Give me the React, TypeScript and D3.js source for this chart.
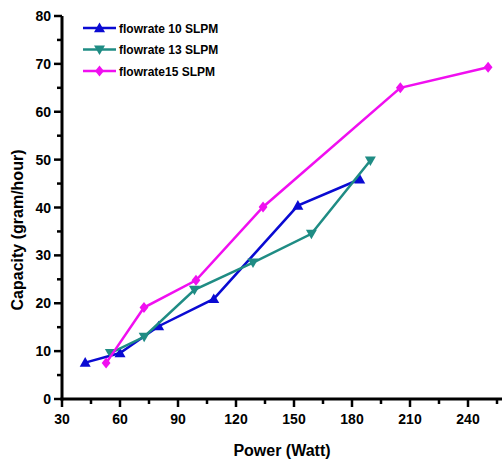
import React from "react";
import * as d3 from "d3";

const xTicks = [30, 60, 90, 120, 150, 180, 210, 240];
const yTicks = [0, 10, 20, 30, 40, 50, 60, 70, 80];

const s10x = [42, 60, 80, 108.5, 152, 184];
const s10y = [7.6, 9.6, 15.2, 20.9, 40.4, 45.9];
const s13x = [55, 72.5, 98.5, 128.8, 159, 189.5];
const s13y = [9.6, 13, 22.8, 28.5, 34.5, 49.8];
const s15x = [52.8, 72.4, 99.3, 134, 205, 250.4];
const s15y = [7.5, 19.1, 24.8, 40.1, 65, 69.3];

const seriesNames = ["flowrate 10 SLPM", "flowrate 13 SLPM", "flowrate15 SLPM"];
const colors = ["#0a0ad2", "#1f8c84", "#f00ff0"];

const W = 504, H = 464;
const x = d3.scaleLinear().domain([30, 30 + (502 - 62) / (58 / 30)]).range([62, 502]);
const y = d3.scaleLinear().domain([0, 80]).range([399, 16]);

function Marker({ kind, cx, cy, color }: { kind: number; cx: number; cy: number; color: string }) {
  const r = 5.5;
  if (kind === 0) {
    return <path d={`M${cx},${cy - r} L${cx + r},${cy + r * 0.75} L${cx - r},${cy + r * 0.75} Z`} fill={color} />;
  }
  if (kind === 1) {
    return <path d={`M${cx},${cy + r} L${cx + r},${cy - r * 0.75} L${cx - r},${cy - r * 0.75} Z`} fill={color} />;
  }
  return <path d={`M${cx},${cy - r} L${cx + r * 0.8},${cy} L${cx},${cy + r} L${cx - r * 0.8},${cy} Z`} fill={color} />;
}

export default function App() {
  const series = [
    { xs: s10x, ys: s10y },
    { xs: s13x, ys: s13y },
    { xs: s15x, ys: s15y },
  ];
  const line = d3.line<[number, number]>().x((d) => x(d[0])).y((d) => y(d[1]));
  const font = "'Liberation Sans', Arial, sans-serif";
  const xMinor = d3.range(45, 270, 30);
  const yMinor = d3.range(5, 80, 10);
  return (
    <svg width={W} height={H} style={{ position: "absolute", left: 0, top: 0 }} fontFamily={font}>
      <rect width={W} height={H} fill="#fff" />
      {series.map((s, i) => (
        <g key={i}>
          <path
            d={line(s.xs.map((v, j) => [v, s.ys[j]]) as [number, number][]) || ""}
            fill="none"
            stroke={colors[i]}
            strokeWidth={2.5}
          />
          {s.xs.map((v, j) => (
            <Marker key={j} kind={i} cx={x(v)} cy={y(s.ys[j])} color={colors[i]} />
          ))}
        </g>
      ))}
      {/* axes */}
      <line x1={62} x2={62} y1={16} y2={400.5} stroke="#000" strokeWidth={3} />
      <line x1={60.5} x2={502} y1={399} y2={399} stroke="#000" strokeWidth={3} />
      {xTicks.map((t) => (
        <g key={t}>
          <line x1={x(t)} x2={x(t)} y1={399} y2={407} stroke="#000" strokeWidth={2.5} />
          <text x={x(t)} y={424} textAnchor="middle" fontSize={14} fontWeight="bold">{t}</text>
        </g>
      ))}
      {xMinor.map((t) => (
        <line key={t} x1={x(t)} x2={x(t)} y1={399} y2={404} stroke="#000" strokeWidth={2.5} />
      ))}
      {yTicks.map((t) => (
        <g key={t}>
          <line x1={54} x2={62} y1={y(t)} y2={y(t)} stroke="#000" strokeWidth={2.5} />
          <text x={51} y={y(t) + 5} textAnchor="end" fontSize={14} fontWeight="bold">{t}</text>
        </g>
      ))}
      {yMinor.map((t) => (
        <line key={t} x1={57} x2={62} y1={y(t)} y2={y(t)} stroke="#000" strokeWidth={2.5} />
      ))}
      <text x={282} y={456} textAnchor="middle" fontSize={16} fontWeight="bold">Power (Watt)</text>
      <text transform="translate(23,230) rotate(-90)" textAnchor="middle" fontSize={16} fontWeight="bold">
        Capacity (gram/hour)
      </text>
      {/* legend */}
      {seriesNames.map((n, i) => {
        const ly = 28 + i * 21.5;
        return (
          <g key={n}>
            <line x1={83} x2={116} y1={ly} y2={ly} stroke={colors[i]} strokeWidth={2.5} />
            <Marker kind={i} cx={99.5} cy={ly} color={colors[i]} />
            <text x={119} y={ly + 4.5} fontSize={12} fontWeight="bold">{n}</text>
          </g>
        );
      })}
    </svg>
  );
}
